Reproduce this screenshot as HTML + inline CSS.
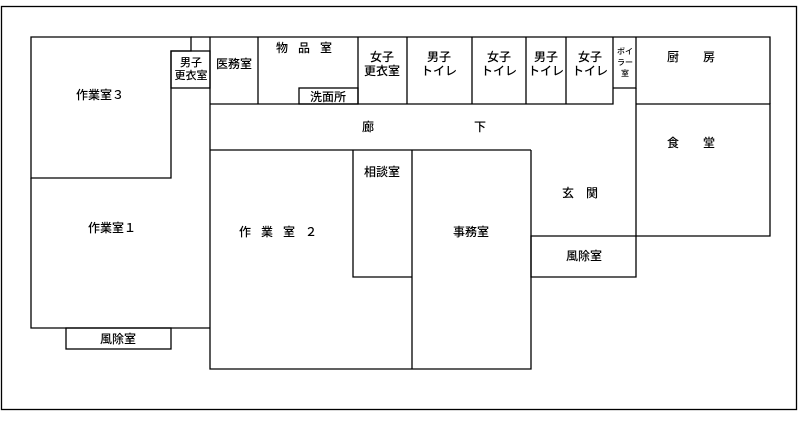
<!DOCTYPE html><html><head><meta charset="utf-8"><style>
body{margin:0;background:#fff}
svg text{font-family:"Liberation Sans","Noto Sans CJK JP",sans-serif;font-size:12px;fill:#000;text-anchor:middle;font-weight:500}
</style></head><body>
<svg width="800" height="417" viewBox="0 0 800 417" xmlns="http://www.w3.org/2000/svg">
<g fill="none" stroke="#000" stroke-width="1.3">
<rect x="1.5" y="6.5" width="795" height="403"/>
<path d="M31 37H191V51H171V178H31Z"/>
<path d="M191 37H770V104"/>
<rect x="171" y="51" width="39" height="37"/>
<path d="M210 37V369H531V150"/>
<path d="M258 37V104M358 37V104M407 37V104M472 37V104M526 37V104M566 37V104"/>
<path d="M210 104H613V37"/>
<rect x="299" y="88" width="59" height="16"/>
<path d="M613 88H636V37"/>
<path d="M636 88V277H531V236H770V104H636"/>
<path d="M210 150H531"/>
<path d="M353 150V277H412M412 150V369"/>
<path d="M31 178V328H210"/>
<rect x="66" y="328" width="105" height="21"/>
</g>
<text x="100" y="99">作業室３</text>
<text x="191" y="66" style="font-size:11px">男子</text><text x="191" y="79" style="font-size:11px">更衣室</text>
<text x="234" y="68">医務室</text>
<text x="309" y="52" letter-spacing="10">物品室</text>
<text x="328" y="101">洗面所</text>
<text x="382" y="61">女子</text><text x="382" y="75">更衣室</text>
<text x="439" y="61">男子</text><text x="439" y="75">トイレ</text>
<text x="499" y="61">女子</text><text x="499" y="75">トイレ</text>
<text x="546" y="61">男子</text><text x="546" y="75">トイレ</text>
<text x="590" y="61">女子</text><text x="590" y="75">トイレ</text>
<text x="625" y="54" style="font-size:8px">ボイ</text><text x="625" y="65" style="font-size:8px">ラー</text><text x="625" y="76" style="font-size:8px">室</text>
<text x="703" y="61" letter-spacing="24">厨房</text>
<text x="368" y="131">廊</text><text x="480" y="131">下</text>
<text x="703" y="147" letter-spacing="24">食堂</text>
<text x="382" y="176">相談室</text>
<text x="586" y="197" letter-spacing="12">玄関</text>
<text x="112" y="232">作業室１</text>
<text x="283" y="236" letter-spacing="10">作業室２</text>
<text x="471" y="236">事務室</text>
<text x="584" y="260">風除室</text>
<text x="118" y="343">風除室</text>
</svg>
</body></html>
